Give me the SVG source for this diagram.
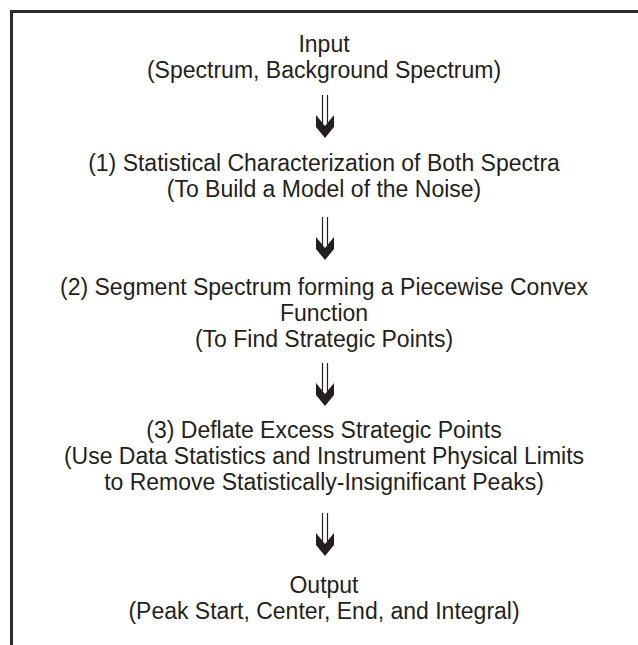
<svg xmlns="http://www.w3.org/2000/svg" width="638" height="645" viewBox="0 0 638 645">
  <style>
    .frame { fill: none; stroke: #2b2b2b; stroke-width: 3; }
    .label { font-family: "Liberation Sans", Arial, sans-serif; font-size: 23px; fill: #231f20; text-anchor: middle; }
    .shaft { stroke: #231f20; stroke-width: 1.2; fill: none; }
    .head { fill: #231f20; }
  </style>
  <defs>
    <!-- double-shaft arrow with a solid chevron head, origin at top centre -->
    <g id="dbl-arrow">
      <line class="shaft" x1="-2.5" y1="0" x2="-2.5" y2="28"/>
      <line class="shaft" x1="2.5" y1="0" x2="2.5" y2="28"/>
      <polygon class="head" points="-9,20 0,31 9,20 9,32 0,43 -9,32"/>
    </g>
  </defs>
  <rect width="638" height="645" fill="#ffffff"/>
  <path class="frame" d="M11.5,645 V11.5 H638"/>

  <g id="input">
    <text class="label" x="324" y="52">Input</text>
    <text class="label" x="324" y="78">(Spectrum, Background Spectrum)</text>
  </g>
  <g id="step1">
    <text class="label" x="324" y="171">(1) Statistical Characterization of Both Spectra</text>
    <text class="label" x="324" y="197">(To Build a Model of the Noise)</text>
  </g>
  <g id="step2">
    <text class="label" x="324" y="295">(2) Segment Spectrum forming a Piecewise Convex</text>
    <text class="label" x="324" y="321">Function</text>
    <text class="label" x="324" y="347">(To Find Strategic Points)</text>
  </g>
  <g id="step3">
    <text class="label" x="324" y="438">(3) Deflate Excess Strategic Points</text>
    <text class="label" x="324" y="464">(Use Data Statistics and Instrument Physical Limits</text>
    <text class="label" x="324" y="490">to Remove Statistically-Insignificant Peaks)</text>
  </g>
  <g id="output">
    <text class="label" x="324" y="593">Output</text>
    <text class="label" x="324" y="619">(Peak Start, Center, End, and Integral)</text>
  </g>

  <g id="connectors">
    <use href="#dbl-arrow" x="325" y="95"/>
    <use href="#dbl-arrow" x="325" y="217"/>
    <use href="#dbl-arrow" x="325" y="363"/>
    <use href="#dbl-arrow" x="325" y="513"/>
  </g>
</svg>
